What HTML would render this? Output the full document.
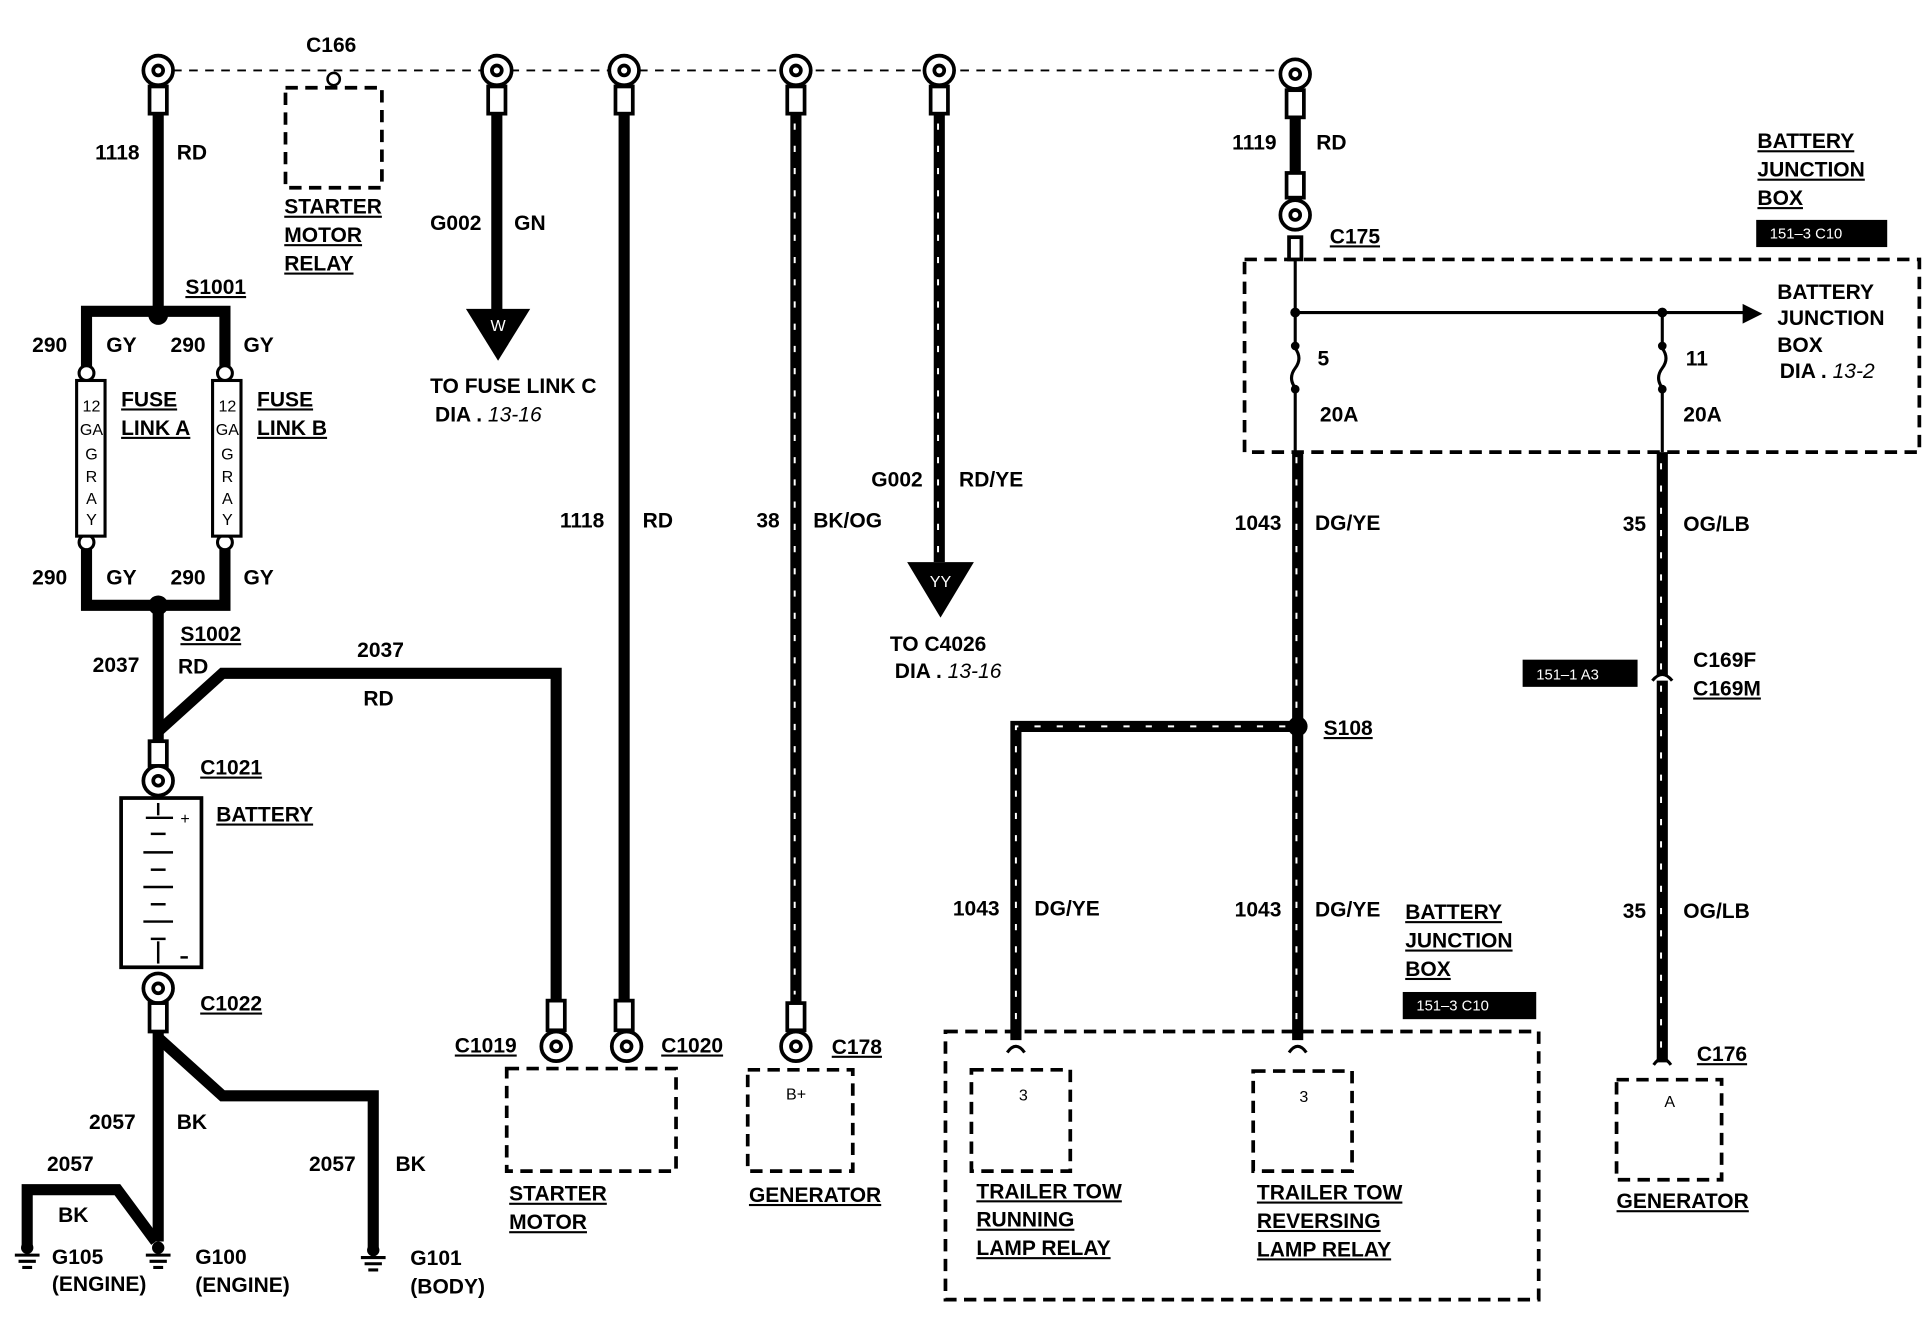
<!DOCTYPE html>
<html><head><meta charset="utf-8"><style>
html,body{margin:0;padding:0;background:#fff;}
svg{display:block}
text{font-family:"Liberation Sans Narrow","Liberation Sans",sans-serif;font-weight:bold;font-size:17px;fill:#000}
.u{text-decoration:underline}
.s{font-size:13px;font-weight:normal}
.w{fill:#fff;font-size:12px;font-weight:normal}
</style></head><body>
<svg width="1928" height="1328" viewBox="0 0 1560 1075" preserveAspectRatio="none" xmlns="http://www.w3.org/2000/svg">
<rect width="1560" height="1075" fill="#fff"/>
<!-- top dashed bus -->
<line x1="140" y1="57" x2="1036" y2="57" stroke="#000" stroke-width="1.5" stroke-dasharray="7 6"/>
<g fill="#fff" stroke="#000" stroke-width="3">
<circle cx="128" cy="57" r="12"/><circle cx="128" cy="57" r="4"/><rect x="121" y="70" width="14" height="22"/>
<circle cx="402" cy="57" r="12"/><circle cx="402" cy="57" r="4"/><rect x="395" y="70" width="14" height="22"/>
<circle cx="505" cy="57" r="12"/><circle cx="505" cy="57" r="4"/><rect x="498" y="70" width="14" height="22"/>
<circle cx="644" cy="57" r="12"/><circle cx="644" cy="57" r="4"/><rect x="637" y="70" width="14" height="22"/>
<circle cx="760" cy="57" r="12"/><circle cx="760" cy="57" r="4"/><rect x="753" y="70" width="14" height="22"/>
<circle cx="1048" cy="60" r="12"/><circle cx="1048" cy="60" r="4"/><rect x="1041" y="73" width="14" height="22"/>
</g>
<!-- C166 -->
<circle cx="270" cy="64" r="5" fill="#fff" stroke="#000" stroke-width="2"/>
<rect x="231" y="71" width="78" height="81" fill="none" stroke="#000" stroke-width="3" stroke-dasharray="10 6"/>
<text x="268" y="42" text-anchor="middle">C166</text>
<text x="230" y="173" class="u">STARTER</text><text x="230" y="196" class="u">MOTOR</text><text x="230" y="219" class="u">RELAY</text>

<!-- left wires -->
<g stroke="#000" stroke-width="9" fill="none">
<line x1="128" y1="92" x2="128" y2="250"/>
<polyline points="124,252 70,252 70,300"/><polyline points="132,252 182,252 182,300"/>
<polyline points="70,440 70,490 124,490"/><polyline points="182,440 182,490 132,490"/>
<line x1="128" y1="495" x2="128" y2="600"/>
<polyline points="128,592 180,545 450,545 450,810"/>
<line x1="505" y1="92" x2="505" y2="810"/>
<line x1="402" y1="92" x2="402" y2="252"/>
<line x1="128" y1="835" x2="128" y2="1005"/>
<polyline points="128,840 180,887 302,887 302,1010"/>
<polyline points="126,1005 95,963 22,963 22,1010"/>
</g>
<circle cx="128" cy="255" r="8"/><circle cx="128" cy="490" r="8"/>
<g fill="#fff" stroke="#000" stroke-width="2.5">
<circle cx="70" cy="302" r="6"/><circle cx="182" cy="302" r="6"/><circle cx="70" cy="439" r="6"/><circle cx="182" cy="439" r="6"/>
<rect x="62" y="308" width="23" height="126"/><rect x="172" y="308" width="23" height="126"/>
</g>
<g class="s" text-anchor="middle">
<text x="74" y="333" class="s">12</text><text x="74" y="352" class="s">GA</text><text x="74" y="372" class="s">G</text><text x="74" y="390" class="s">R</text><text x="74" y="408" class="s">A</text><text x="74" y="425" class="s">Y</text>
<text x="184" y="333" class="s">12</text><text x="184" y="352" class="s">GA</text><text x="184" y="372" class="s">G</text><text x="184" y="390" class="s">R</text><text x="184" y="408" class="s">A</text><text x="184" y="425" class="s">Y</text>
</g>
<text x="77" y="129">1118</text><text x="143" y="129">RD</text>
<text x="150" y="238" class="u">S1001</text>
<text x="26" y="285">290</text><text x="86" y="285">GY</text><text x="138" y="285">290</text><text x="197" y="285">GY</text>
<text x="98" y="329" class="u">FUSE</text><text x="98" y="352" class="u">LINK A</text>
<text x="208" y="329" class="u">FUSE</text><text x="208" y="352" class="u">LINK B</text>
<text x="26" y="473">290</text><text x="86" y="473">GY</text><text x="138" y="473">290</text><text x="197" y="473">GY</text>
<text x="146" y="519" class="u">S1002</text>
<text x="75" y="544">2037</text><text x="144" y="545">RD</text>
<text x="289" y="532">2037</text><text x="294" y="571">RD</text>
<!-- battery -->
<g fill="#fff" stroke="#000" stroke-width="3">
<rect x="121" y="600" width="14" height="20"/><circle cx="128" cy="632" r="12"/><circle cx="128" cy="632" r="4"/>
<rect x="98" y="646" width="65" height="137"/>
<circle cx="128" cy="800" r="12"/><circle cx="128" cy="800" r="4"/><rect x="121" y="812" width="14" height="23"/>
</g>
<g stroke="#000" stroke-width="2">
<line x1="128" y1="650" x2="128" y2="660"/><line x1="118" y1="662" x2="140" y2="662"/><line x1="122" y1="675" x2="134" y2="675"/>
<line x1="116" y1="690" x2="140" y2="690"/><line x1="122" y1="704" x2="134" y2="704"/><line x1="116" y1="718" x2="140" y2="718"/>
<line x1="122" y1="732" x2="134" y2="732"/><line x1="116" y1="746" x2="140" y2="746"/><line x1="122" y1="760" x2="134" y2="760"/>
<line x1="128" y1="762" x2="128" y2="780"/><line x1="146" y1="775" x2="152" y2="775"/>
</g>
<text x="146" y="667" class="s">+</text>
<text x="162" y="627" class="u">C1021</text><text x="175" y="665" class="u">BATTERY</text>
<text x="162" y="818" class="u">C1022</text>
<text x="72" y="914">2057</text><text x="143" y="914">BK</text>
<text x="38" y="948">2057</text><text x="47" y="989">BK</text>
<text x="250" y="948">2057</text><text x="320" y="948">BK</text>
<!-- grounds -->
<g stroke="#000" stroke-width="2.5">
<line x1="22" y1="1008" x2="22" y2="1016"/><line x1="12" y1="1016" x2="32" y2="1016"/><line x1="15" y1="1021" x2="29" y2="1021"/><line x1="18" y1="1026" x2="26" y2="1026"/>
<line x1="128" y1="1008" x2="128" y2="1016"/><line x1="118" y1="1016" x2="138" y2="1016"/><line x1="121" y1="1021" x2="135" y2="1021"/><line x1="124" y1="1026" x2="132" y2="1026"/>
<line x1="302" y1="1010" x2="302" y2="1018"/><line x1="292" y1="1018" x2="312" y2="1018"/><line x1="295" y1="1023" x2="309" y2="1023"/><line x1="298" y1="1028" x2="306" y2="1028"/>
</g>
<circle cx="22" cy="1010" r="5"/><circle cx="128" cy="1010" r="5"/><circle cx="302" cy="1012" r="5"/>
<text x="42" y="1023">G105</text><text x="42" y="1045">(ENGINE)</text>
<text x="158" y="1023">G100</text><text x="158" y="1046">(ENGINE)</text>
<text x="332" y="1024">G101</text><text x="332" y="1047">(BODY)</text>

<!-- G002 GN -->
<polygon points="377,250 429,250 403,292" fill="#000"/>
<text x="403" y="268" text-anchor="middle" class="w" style="font-size:13px">W</text>
<text x="348" y="186">G002</text><text x="416" y="186">GN</text>
<text x="348" y="318">TO FUSE LINK C</text><text x="352" y="341">DIA . <tspan font-style="italic" font-weight="normal">13-16</tspan></text>

<text x="453" y="427">1118</text><text x="520" y="427">RD</text>
<!-- striped wires -->
<g stroke="#000" stroke-width="9" fill="none">
<line x1="644" y1="92" x2="644" y2="812"/>
<line x1="760" y1="92" x2="760" y2="455"/>
<line x1="1050" y1="366" x2="1050" y2="842"/>
<polyline points="1050,588 822,588 822,842"/>
<line x1="1345" y1="366" x2="1345" y2="860"/>
</g>
<g stroke="#fff" stroke-width="1.6" fill="none" stroke-dasharray="5 13">
<line x1="643" y1="100" x2="643" y2="805"/>
<line x1="759" y1="100" x2="759" y2="450"/>
<line x1="1049" y1="370" x2="1049" y2="835"/>
<polyline points="1040,588 822,588 822,835"/>
<line x1="1344" y1="375" x2="1344" y2="855"/>
</g>
<text x="612" y="427">38</text><text x="658" y="427">BK/OG</text>
<text x="705" y="394">G002</text><text x="776" y="394">RD/YE</text>
<polygon points="734,455 788,455 761,500" fill="#000"/>
<text x="761" y="475" text-anchor="middle" class="w" style="font-size:13px">YY</text>
<text x="720" y="527">TO C4026</text><text x="724" y="549">DIA . <tspan font-style="italic" font-weight="normal">13-16</tspan></text>

<!-- bottom terminals -->
<g fill="#fff" stroke="#000" stroke-width="3">
<rect x="443" y="810" width="14" height="24"/><circle cx="450" cy="847" r="12"/><circle cx="450" cy="847" r="4"/>
<rect x="498" y="810" width="14" height="24"/><circle cx="507" cy="847" r="12"/><circle cx="507" cy="847" r="4"/>
<rect x="637" y="812" width="14" height="22"/><circle cx="644" cy="847" r="12"/><circle cx="644" cy="847" r="4"/>
</g>
<text x="368" y="852" class="u">C1019</text><text x="535" y="852" class="u">C1020</text><text x="673" y="853" class="u">C178</text>
<g fill="none" stroke="#000" stroke-width="3" stroke-dasharray="10 6">
<rect x="410" y="865" width="137" height="83"/>
<rect x="605" y="866" width="85" height="82"/>
<rect x="765" y="835" width="480" height="217"/>
<rect x="786" y="866" width="80" height="82"/>
<rect x="1014" y="867" width="80" height="81"/>
<rect x="1308" y="874" width="85" height="81"/>
<rect x="1007" y="210" width="546" height="156"/>
</g>
<text x="412" y="972" class="u">STARTER</text><text x="412" y="995" class="u">MOTOR</text>
<text x="636" y="890" class="s">B+</text>
<text x="606" y="973" class="u">GENERATOR</text>

<!-- right section -->
<g stroke="#000" stroke-width="9"><line x1="1048" y1="95" x2="1048" y2="140"/></g>
<g fill="#fff" stroke="#000" stroke-width="3">
<rect x="1041" y="140" width="14" height="20"/><circle cx="1048" cy="174" r="12"/><circle cx="1048" cy="174" r="4"/><rect x="1043" y="192" width="10" height="18"/>
</g>
<text x="997" y="121">1119</text><text x="1065" y="121">RD</text>
<text x="1076" y="197" class="u">C175</text>
<g stroke="#000" stroke-width="2.5" fill="none">
<line x1="1048" y1="210" x2="1048" y2="282"/><path d="M1048,282 q6,8 0,16 q-6,8 0,16"/><line x1="1048" y1="314" x2="1048" y2="366"/>
<line x1="1345" y1="253" x2="1345" y2="282"/><path d="M1345,282 q6,8 0,16 q-6,8 0,16"/><line x1="1345" y1="314" x2="1345" y2="366"/>
<line x1="1048" y1="253" x2="1412" y2="253"/>
</g>
<polygon points="1410,246 1426,254 1410,262" fill="#000"/>
<circle cx="1048" cy="253" r="4"/><circle cx="1345" cy="253" r="4"/>
<circle cx="1048" cy="280" r="3.5"/><circle cx="1048" cy="315" r="3.5"/><circle cx="1345" cy="280" r="3.5"/><circle cx="1345" cy="315" r="3.5"/>
<text x="1066" y="296">5</text><text x="1068" y="341">20A</text>
<text x="1364" y="296" font-weight="normal">11</text><text x="1362" y="341">20A</text>
<text x="1438" y="242">BATTERY</text><text x="1438" y="263">JUNCTION</text><text x="1438" y="285">BOX</text><text x="1440" y="306">DIA . <tspan font-style="italic" font-weight="normal">13-2</tspan></text>
<text x="1422" y="120" class="u">BATTERY</text><text x="1422" y="143" class="u">JUNCTION</text><text x="1422" y="166" class="u">BOX</text>
<rect x="1421" y="178" width="106" height="22" fill="#000"/><text x="1432" y="193" class="w">151–3 C10</text>

<text x="999" y="429">1043</text><text x="1064" y="429">DG/YE</text>
<text x="1313" y="430">35</text><text x="1362" y="430">OG/LB</text>
<rect x="1232" y="534" width="93" height="22" fill="#000"/><text x="1243" y="550" class="w">151–1 A3</text>
<path d="M1337,551 q8,-10 16,0" stroke="#000" stroke-width="2.5" fill="#fff"/>
<text x="1370" y="540">C169F</text><text x="1370" y="563" class="u">C169M</text>
<circle cx="1050" cy="588" r="8"/>
<text x="1071" y="595" class="u">S108</text>
<text x="771" y="741">1043</text><text x="837" y="741">DG/YE</text>
<text x="999" y="742">1043</text><text x="1064" y="742">DG/YE</text>
<text x="1313" y="743">35</text><text x="1362" y="743">OG/LB</text>
<text x="1137" y="744" class="u">BATTERY</text><text x="1137" y="767" class="u">JUNCTION</text><text x="1137" y="790" class="u">BOX</text>
<rect x="1135" y="803" width="108" height="22" fill="#000"/><text x="1146" y="818" class="w">151–3 C10</text>
<g stroke="#000" stroke-width="2.5" fill="none">
<path d="M815,852 q7,-10 14,0"/><path d="M1043,852 q7,-10 14,0"/><path d="M1338,862 q7,-10 14,0"/>
</g>
<text x="828" y="891" class="s" text-anchor="middle">3</text><text x="1055" y="892" class="s" text-anchor="middle">3</text>
<text x="1351" y="896" class="s" text-anchor="middle">A</text>
<text x="790" y="970" class="u">TRAILER TOW</text><text x="790" y="993" class="u">RUNNING</text><text x="790" y="1016" class="u">LAMP RELAY</text>
<text x="1017" y="971" class="u">TRAILER TOW</text><text x="1017" y="994" class="u">REVERSING</text><text x="1017" y="1017" class="u">LAMP RELAY</text>
<text x="1373" y="859" class="u">C176</text>
<text x="1308" y="978" class="u">GENERATOR</text>
</svg>
</body></html>
